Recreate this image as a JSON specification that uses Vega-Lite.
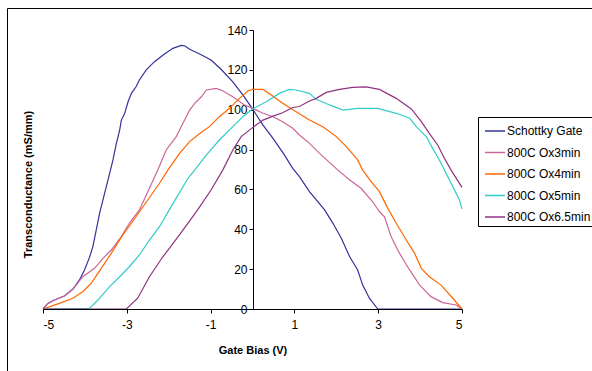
{
 "$schema": "https://vega.github.io/schema/vega-lite/v6.json",
 "width": 590,
 "height": 370,
 "autosize": {"type": "none"},
 "padding": {"left": 7, "top": 8, "right": 0, "bottom": 0},
 "background": "white",
 "config": {"view": {"stroke": "#000", "strokeWidth": 1}, "font": "Liberation Sans"},
 "data": {"values": [
  {"s":"Schottky Gate","x":-5,"y":0},{"s":"Schottky Gate","x":-4.885,"y":2.8},{"s":"Schottky Gate","x":-4.73,"y":4.5},{"s":"Schottky Gate","x":-4.49,"y":6.5},{"s":"Schottky Gate","x":-4.29,"y":9.9},{"s":"Schottky Gate","x":-4.13,"y":14.6},{"s":"Schottky Gate","x":-4.01,"y":19.6},{"s":"Schottky Gate","x":-3.89,"y":25.9},{"s":"Schottky Gate","x":-3.81,"y":31.3},{"s":"Schottky Gate","x":-3.73,"y":39.6},{"s":"Schottky Gate","x":-3.65,"y":48},{"s":"Schottky Gate","x":-3.53,"y":58},{"s":"Schottky Gate","x":-3.45,"y":64.7},{"s":"Schottky Gate","x":-3.39,"y":69.7},{"s":"Schottky Gate","x":-3.33,"y":74.8},{"s":"Schottky Gate","x":-3.25,"y":83},{"s":"Schottky Gate","x":-3.17,"y":89.8},{"s":"Schottky Gate","x":-3.13,"y":94.8},{"s":"Schottky Gate","x":-3.05,"y":98.2},{"s":"Schottky Gate","x":-2.97,"y":104},{"s":"Schottky Gate","x":-2.89,"y":108.2},{"s":"Schottky Gate","x":-2.78,"y":111.5},{"s":"Schottky Gate","x":-2.7,"y":114.9},{"s":"Schottky Gate","x":-2.54,"y":119.9},{"s":"Schottky Gate","x":-2.34,"y":124.1},{"s":"Schottky Gate","x":-2.1,"y":128},{"s":"Schottky Gate","x":-1.9,"y":130.8},{"s":"Schottky Gate","x":-1.7,"y":132.3},{"s":"Schottky Gate","x":-1.62,"y":132.1},{"s":"Schottky Gate","x":-1.5,"y":130.3},{"s":"Schottky Gate","x":-1.26,"y":128},{"s":"Schottky Gate","x":-0.99,"y":124.9},{"s":"Schottky Gate","x":-0.75,"y":120.3},{"s":"Schottky Gate","x":-0.47,"y":114},{"s":"Schottky Gate","x":-0.23,"y":107.4},{"s":"Schottky Gate","x":0,"y":100.4},{"s":"Schottky Gate","x":0.25,"y":92.3},{"s":"Schottky Gate","x":0.49,"y":85.6},{"s":"Schottky Gate","x":0.76,"y":77.3},{"s":"Schottky Gate","x":0.96,"y":70.6},{"s":"Schottky Gate","x":1.12,"y":66.4},{"s":"Schottky Gate","x":1.36,"y":58.9},{"s":"Schottky Gate","x":1.72,"y":49.7},{"s":"Schottky Gate","x":1.92,"y":43},{"s":"Schottky Gate","x":2.12,"y":35.5},{"s":"Schottky Gate","x":2.32,"y":26.2},{"s":"Schottky Gate","x":2.51,"y":19.6},{"s":"Schottky Gate","x":2.63,"y":12},{"s":"Schottky Gate","x":2.79,"y":5.4},{"s":"Schottky Gate","x":2.99,"y":0},{"s":"Schottky Gate","x":4,"y":0},{"s":"Schottky Gate","x":5,"y":0},
  {"s":"800C Ox3min","x":-5,"y":0},{"s":"800C Ox3min","x":-4.885,"y":2.8},{"s":"800C Ox3min","x":-4.73,"y":4.5},{"s":"800C Ox3min","x":-4.49,"y":6.5},{"s":"800C Ox3min","x":-4.29,"y":9.9},{"s":"800C Ox3min","x":-4.05,"y":16.2},{"s":"800C Ox3min","x":-3.77,"y":20.4},{"s":"800C Ox3min","x":-3.57,"y":25.4},{"s":"800C Ox3min","x":-3.37,"y":29.6},{"s":"800C Ox3min","x":-3.13,"y":36.3},{"s":"800C Ox3min","x":-2.94,"y":43},{"s":"800C Ox3min","x":-2.7,"y":49.7},{"s":"800C Ox3min","x":-2.46,"y":60.6},{"s":"800C Ox3min","x":-2.26,"y":69.7},{"s":"800C Ox3min","x":-2.06,"y":79.8},{"s":"800C Ox3min","x":-1.82,"y":86.5},{"s":"800C Ox3min","x":-1.66,"y":93.2},{"s":"800C Ox3min","x":-1.5,"y":99.8},{"s":"800C Ox3min","x":-1.38,"y":103.2},{"s":"800C Ox3min","x":-1.22,"y":106.5},{"s":"800C Ox3min","x":-1.1,"y":109.9},{"s":"800C Ox3min","x":-0.87,"y":110.7},{"s":"800C Ox3min","x":-0.71,"y":109.5},{"s":"800C Ox3min","x":-0.47,"y":106.5},{"s":"800C Ox3min","x":-0.19,"y":102.4},{"s":"800C Ox3min","x":0,"y":100.7},{"s":"800C Ox3min","x":0.25,"y":98.2},{"s":"800C Ox3min","x":0.49,"y":96.5},{"s":"800C Ox3min","x":0.72,"y":94},{"s":"800C Ox3min","x":0.96,"y":90.7},{"s":"800C Ox3min","x":1.12,"y":87.3},{"s":"800C Ox3min","x":1.36,"y":83.1},{"s":"800C Ox3min","x":1.6,"y":78.1},{"s":"800C Ox3min","x":2.04,"y":69.7},{"s":"800C Ox3min","x":2.32,"y":64.7},{"s":"800C Ox3min","x":2.59,"y":60.6},{"s":"800C Ox3min","x":2.87,"y":53.8},{"s":"800C Ox3min","x":3.03,"y":48.8},{"s":"800C Ox3min","x":3.15,"y":46.3},{"s":"800C Ox3min","x":3.31,"y":36.3},{"s":"800C Ox3min","x":3.51,"y":27.9},{"s":"800C Ox3min","x":3.75,"y":19.6},{"s":"800C Ox3min","x":3.99,"y":12},{"s":"800C Ox3min","x":4.26,"y":6.2},{"s":"800C Ox3min","x":4.54,"y":3.2},{"s":"800C Ox3min","x":4.86,"y":2},{"s":"800C Ox3min","x":5,"y":0},
  {"s":"800C Ox4min","x":-5,"y":0},{"s":"800C Ox4min","x":-4.61,"y":2.8},{"s":"800C Ox4min","x":-4.29,"y":5.4},{"s":"800C Ox4min","x":-4.05,"y":8.7},{"s":"800C Ox4min","x":-3.85,"y":12.9},{"s":"800C Ox4min","x":-3.61,"y":20.4},{"s":"800C Ox4min","x":-3.37,"y":27.9},{"s":"800C Ox4min","x":-3.1,"y":37.1},{"s":"800C Ox4min","x":-2.78,"y":46.3},{"s":"800C Ox4min","x":-2.5,"y":54.7},{"s":"800C Ox4min","x":-2.22,"y":63.1},{"s":"800C Ox4min","x":-2.02,"y":69.7},{"s":"800C Ox4min","x":-1.74,"y":78.1},{"s":"800C Ox4min","x":-1.5,"y":84},{"s":"800C Ox4min","x":-1.26,"y":88.1},{"s":"800C Ox4min","x":-1.03,"y":91.5},{"s":"800C Ox4min","x":-0.79,"y":96.5},{"s":"800C Ox4min","x":-0.55,"y":100.7},{"s":"800C Ox4min","x":-0.31,"y":105.7},{"s":"800C Ox4min","x":-0.11,"y":109.4},{"s":"800C Ox4min","x":0,"y":110.2},{"s":"800C Ox4min","x":0.25,"y":110.2},{"s":"800C Ox4min","x":0.45,"y":107.4},{"s":"800C Ox4min","x":0.72,"y":103.2},{"s":"800C Ox4min","x":1.04,"y":99},{"s":"800C Ox4min","x":1.36,"y":94.8},{"s":"800C Ox4min","x":1.68,"y":91.5},{"s":"800C Ox4min","x":2,"y":86.5},{"s":"800C Ox4min","x":2.24,"y":81.5},{"s":"800C Ox4min","x":2.51,"y":74.8},{"s":"800C Ox4min","x":2.63,"y":69.7},{"s":"800C Ox4min","x":2.83,"y":63.9},{"s":"800C Ox4min","x":3.03,"y":58.9},{"s":"800C Ox4min","x":3.23,"y":50.5},{"s":"800C Ox4min","x":3.43,"y":43},{"s":"800C Ox4min","x":3.67,"y":34.6},{"s":"800C Ox4min","x":3.87,"y":27.9},{"s":"800C Ox4min","x":4.03,"y":20.4},{"s":"800C Ox4min","x":4.22,"y":16.2},{"s":"800C Ox4min","x":4.5,"y":12},{"s":"800C Ox4min","x":4.78,"y":5.4},{"s":"800C Ox4min","x":5,"y":0},
  {"s":"800C Ox5min","x":-5,"y":0},{"s":"800C Ox5min","x":-3.89,"y":0.3},{"s":"800C Ox5min","x":-3.69,"y":4.5},{"s":"800C Ox5min","x":-3.41,"y":11.2},{"s":"800C Ox5min","x":-3.17,"y":16.2},{"s":"800C Ox5min","x":-2.94,"y":21.2},{"s":"800C Ox5min","x":-2.7,"y":27.1},{"s":"800C Ox5min","x":-2.46,"y":34.6},{"s":"800C Ox5min","x":-2.22,"y":41.3},{"s":"800C Ox5min","x":-1.98,"y":50},{"s":"800C Ox5min","x":-1.74,"y":58.5},{"s":"800C Ox5min","x":-1.54,"y":65.6},{"s":"800C Ox5min","x":-1.38,"y":69.7},{"s":"800C Ox5min","x":-1.1,"y":77.3},{"s":"800C Ox5min","x":-0.79,"y":84.8},{"s":"800C Ox5min","x":-0.47,"y":91.5},{"s":"800C Ox5min","x":-0.23,"y":96.5},{"s":"800C Ox5min","x":0,"y":100.4},{"s":"800C Ox5min","x":0.33,"y":104},{"s":"800C Ox5min","x":0.64,"y":108.2},{"s":"800C Ox5min","x":0.88,"y":110.2},{"s":"800C Ox5min","x":1.04,"y":109.9},{"s":"800C Ox5min","x":1.36,"y":108.2},{"s":"800C Ox5min","x":1.52,"y":105.2},{"s":"800C Ox5min","x":1.84,"y":102.4},{"s":"800C Ox5min","x":2.16,"y":99.8},{"s":"800C Ox5min","x":2.51,"y":100.7},{"s":"800C Ox5min","x":2.99,"y":100.7},{"s":"800C Ox5min","x":3.43,"y":98.2},{"s":"800C Ox5min","x":3.75,"y":95.7},{"s":"800C Ox5min","x":3.91,"y":91.5},{"s":"800C Ox5min","x":4.15,"y":86.5},{"s":"800C Ox5min","x":4.3,"y":80.6},{"s":"800C Ox5min","x":4.46,"y":74.8},{"s":"800C Ox5min","x":4.58,"y":69.7},{"s":"800C Ox5min","x":4.78,"y":61.4},{"s":"800C Ox5min","x":4.94,"y":54.7},{"s":"800C Ox5min","x":5,"y":50.2},
  {"s":"800C Ox6.5min","x":-5,"y":0},{"s":"800C Ox6.5min","x":-3.01,"y":0},{"s":"800C Ox6.5min","x":-2.74,"y":5.4},{"s":"800C Ox6.5min","x":-2.46,"y":16.2},{"s":"800C Ox6.5min","x":-2.14,"y":26.2},{"s":"800C Ox6.5min","x":-1.98,"y":30.5},{"s":"800C Ox6.5min","x":-1.66,"y":39.6},{"s":"800C Ox6.5min","x":-1.31,"y":49.7},{"s":"800C Ox6.5min","x":-0.99,"y":59.7},{"s":"800C Ox6.5min","x":-0.71,"y":69.7},{"s":"800C Ox6.5min","x":-0.47,"y":79.8},{"s":"800C Ox6.5min","x":-0.27,"y":86.5},{"s":"800C Ox6.5min","x":0,"y":91},{"s":"800C Ox6.5min","x":0.25,"y":94.8},{"s":"800C Ox6.5min","x":0.49,"y":96.8},{"s":"800C Ox6.5min","x":0.72,"y":98.5},{"s":"800C Ox6.5min","x":0.96,"y":101.1},{"s":"800C Ox6.5min","x":1.12,"y":101.6},{"s":"800C Ox6.5min","x":1.36,"y":104.4},{"s":"800C Ox6.5min","x":1.52,"y":105.7},{"s":"800C Ox6.5min","x":1.76,"y":108.7},{"s":"800C Ox6.5min","x":2.08,"y":110.2},{"s":"800C Ox6.5min","x":2.39,"y":111.2},{"s":"800C Ox6.5min","x":2.71,"y":111.5},{"s":"800C Ox6.5min","x":3.03,"y":110.2},{"s":"800C Ox6.5min","x":3.43,"y":105.7},{"s":"800C Ox6.5min","x":3.79,"y":100.4},{"s":"800C Ox6.5min","x":4.03,"y":94},{"s":"800C Ox6.5min","x":4.22,"y":88.1},{"s":"800C Ox6.5min","x":4.42,"y":82.3},{"s":"800C Ox6.5min","x":4.58,"y":75.6},{"s":"800C Ox6.5min","x":4.74,"y":69.7},{"s":"800C Ox6.5min","x":5,"y":61}
 ]},
 "mark": {"type": "line", "strokeWidth": 1.2},
 "encoding": {
  "x": {"field": "x", "type": "quantitative",
   "scale": {"domain": [-5, 5], "range": [36, 455], "nice": false, "zero": false},
   "axis": {"values": [-5, -3, -1, 1, 3, 5], "orient": "bottom", "offset": -69, "title": "Gate Bias (V)",
    "labelExpr": "datum.value < 0 ? '-' + abs(datum.value) : '' + datum.value",
    "titleFontSize": 11, "titleFontWeight": "bold", "titleColor": "#000", "labelFontSize": 12, "labelColor": "#000",
    "tickColor": "#000", "domainColor": "#000", "tickSize": 4, "labelPadding": 6, "titlePadding": 14,
    "grid": false, "zindex": 1}},
  "y": {"field": "y", "type": "quantitative",
   "scale": {"domain": [0, 140], "range": [301, 22], "nice": false},
   "axis": {"values": [0, 20, 40, 60, 80, 100, 120, 140], "orient": "left", "offset": -246,
    "title": "Transconductance (mS/mm)", "titleX": -220, "titleY": 176,
    "titleFontSize": 11, "titleFontWeight": "bold", "titleColor": "#000", "labelFontSize": 12, "labelColor": "#000",
    "tickColor": "#000", "domainColor": "#000", "tickSize": 4, "labelPadding": 2, "grid": false}},
  "color": {"field": "s", "type": "nominal",
   "scale": {"domain": ["Schottky Gate", "800C Ox3min", "800C Ox4min", "800C Ox5min", "800C Ox6.5min"],
    "range": ["#333399", "#cc6699", "#ff6600", "#33cccc", "#8e3380"]},
   "legend": {"title": null, "orient": "none", "legendX": 471, "legendY": 109, "strokeColor": "#000",
    "fillColor": "#fff", "padding": 3, "symbolType": "stroke", "symbolSize": 400, "symbolStrokeWidth": 1.5,
    "labelFontSize": 12, "labelColor": "#000", "labelOffset": 1, "rowPadding": 4.5, "symbolOffset": 3, "labelLimit": 200}}
 }
}
